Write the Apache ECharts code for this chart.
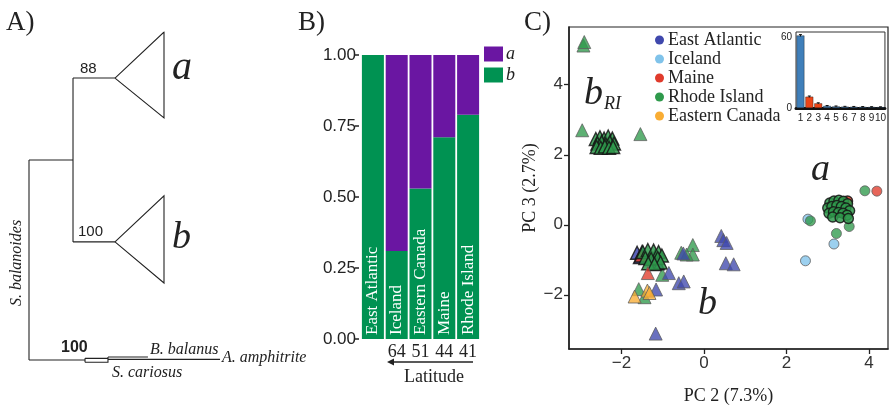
<!DOCTYPE html>
<html>
<head>
<meta charset="utf-8">
<script src="https://cdn.jsdelivr.net/npm/echarts@6/dist/echarts.min.js"></script>
<style>
  html, body { margin: 0; padding: 0; background: #fff; }
  #chart { width: 889px; height: 410px; }
</style>
</head>
<body>
<div id="chart"></div>
<script>
// A) collapsed tree, x = branch length units, y = tip order units
const treeSegments = [
  [[0, 3.89], [0, 9.97]],
  [[0, 3.89], [0.326, 3.89]],
  [[0.326, 1.4], [0.326, 6.38]],
  [[0.326, 1.4], [0.637, 1.4]],
  [[0.326, 6.38], [0.637, 6.38]],
  [[0.637, 1.4], [1, 0], [1, 2.61], [0.637, 1.4]],
  [[0.637, 6.38], [1, 4.98], [1, 7.63], [0.637, 6.38]],
  [[0, 9.97], [0.415, 9.97]],
  [[0.415, 9.92], [0.415, 10.04]],
  [[0.415, 10.04], [0.585, 10.04], [0.585, 9.88]],
  [[0.415, 9.92], [0.585, 9.92]],
  [[0.585, 9.88], [0.881, 9.88]],
  [[0.585, 9.95], [1.415, 9.95]]
];

// B) cluster share per region
const regions = ["East Atlantic", "Iceland", "Eastern Canada", "Maine", "Rhode Island"];
const latitudes = ["", "64", "51", "44", "41"];
const shareB = [1.0, 0.31, 0.53, 0.71, 0.79];
const shareA = [0, 0.69, 0.47, 0.29, 0.21];

// C) PCA, PC2 vs PC3
const pcTicks = [-2, 0, 2, 4];
const rhodeIslandB = [
  [-2.92, 5.12], [-2.9, 5.22], [-2.95, 2.7], [-1.54, 2.59],
  [-1.01, -1.43], [-1.58, -1.84], [-1.44, -2.07],
  [-0.55, -0.8], [-0.27, -0.58], [-0.27, -0.85], [-0.42, -0.85]
];
const rhodeIslandBRI = [
  [-2.62, 2.45], [-2.52, 2.5], [-2.42, 2.46], [-2.32, 2.52], [-2.22, 2.46],
  [-2.58, 2.32], [-2.48, 2.36], [-2.38, 2.3], [-2.28, 2.36], [-2.18, 2.32],
  [-2.6, 2.22], [-2.5, 2.2], [-2.4, 2.24], [-2.3, 2.2], [-2.2, 2.22]
];
const rhodeIslandBCore = [
  [-1.48, -0.78], [-1.36, -0.72], [-1.22, -0.74], [-1.1, -0.78], [-1.02, -0.88],
  [-1.42, -0.95], [-1.28, -0.98], [-1.12, -0.95], [-1.35, -1.1], [-1.05, -1.08], [-1.2, -1.12]
];
const eastAtlanticBCore = [[-1.62, -0.8], [-1.55, -0.92], [-1.5, -0.78], [-1.18, -0.9], [-1.12, -1.1]];
const eastAtlanticB = [
  [-0.85, -1.38], [-0.61, -1.67], [-0.49, -1.62], [-1.16, -1.85], [-1.17, -3.11],
  [0.42, -0.32], [0.47, -0.44], [0.55, -0.52], [0.53, -1.1], [0.72, -1.13], [-0.5, -0.82]
];
const maineBCore = [[-1.52, -0.88]];
const maineB = [[-1.36, -1.38]];
const canadaB = [[-1.68, -2.05], [-1.37, -1.88], [-1.32, -1.95]];
const icelandA = [[2.46, -1.03], [2.52, 0.16], [3.15, -0.55]];
const rhodeIslandA = [[2.58, 0.11], [3.21, -0.25], [3.52, -0.05], [3.9, 0.97]];
const maineACore = [[3.48, 0.68]];
const rhodeIslandACore = [
  [3.05, 0.62], [3.15, 0.68], [3.27, 0.7], [3.38, 0.67], [3.48, 0.6],
  [3.0, 0.48], [3.1, 0.52], [3.22, 0.55], [3.33, 0.52], [3.44, 0.48], [3.53, 0.4],
  [3.03, 0.33], [3.14, 0.37], [3.26, 0.35], [3.37, 0.33], [3.47, 0.27],
  [3.12, 0.22], [3.3, 0.2], [3.5, 0.18]
];
const maineA = [[4.19, 0.96]];

// inset: variance explained per PC
const pcNumbers = ["1", "2", "3", "4", "5", "6", "7", "8", "9", "10"];
const pcVariance = [61, 9.5, 3.9, 1.7, 1.3, 1.1, 1.0, 0.9, 0.8, 0.7];
const pcVarianceErr = [0.8, 0.6, 0.5, 0.4, 0.4, 0.3, 0.3, 0.3, 0.3, 0.3];
const pcVarianceTicks = [0, 60];

const serif = '"Liberation Serif", "DejaVu Serif", serif';
const sans = '"Liberation Sans", Arial, sans-serif';
const ink = "#222";
const colors = {
  "East Atlantic": "#3f48ad",
  Iceland: "#80c3ea",
  Maine: "#e03b2c",
  "Rhode Island": "#2f9a4c",
  "Eastern Canada": "#f9ad34",
};
const minus = (v) => String(v).replace("-", "\u2212");

function scatter(name, data, symbol, size, dense) {
  return {
    name,
    type: "scatter",
    xAxisIndex: 2,
    yAxisIndex: 2,
    symbol,
    symbolSize: size,
    data,
    itemStyle: dense
      ? { color: colors[name], opacity: 0.85, borderColor: "#151515", borderWidth: 1.4 }
      : { color: colors[name], opacity: 0.78, borderColor: "#5e5e5e", borderWidth: 1 },
  };
}

function text(x, y, str, font, align) {
  return { type: "text", x, y, style: { text: str, font, fill: ink, textAlign: align || "left", textVerticalAlign: "middle" } };
}

const chart = echarts.init(document.getElementById("chart"));

const balanoides = text(17, 263, "S. balanoides", `italic 16px ${serif}`, "center");
balanoides.rotation = Math.PI / 2;

chart.setOption({
  animation: false,
  grid: [
    { left: 29, top: 32, width: 270, height: 345.45, containLabel: false },
    { left: 361, top: 55, width: 119, height: 284, containLabel: false },
    { left: 569, top: 27, right: 1, bottom: 58, show: true, borderColor: ink, borderWidth: 1.2, containLabel: false },
    { left: 796, top: 32, width: 90, height: 76, show: true, borderColor: "#333", borderWidth: 1, backgroundColor: "#fff", containLabel: false, z: 5 },
  ],
  xAxis: [
    { gridIndex: 0, type: "value", min: 0, max: 2, show: false },
    {
      gridIndex: 1,
      type: "category",
      data: regions,
      axisLine: { show: false },
      axisTick: { show: false },
      axisLabel: { formatter: (v, i) => latitudes[i], color: ink, fontFamily: serif, fontSize: 18, margin: 4 },
    },
    {
      gridIndex: 2,
      type: "value",
      min: -3.27,
      max: 4.46,
      splitLine: { show: false },
      axisLine: { onZero: false, lineStyle: { color: ink, width: 1.6 } },
      axisTick: { customValues: pcTicks, length: 5, lineStyle: { color: ink, width: 1.3 } },
      axisLabel: { customValues: pcTicks, formatter: minus, color: "#333", fontFamily: sans, fontSize: 17, margin: 6 },
      name: "PC 2 (7.3%)",
      nameLocation: "middle",
      nameGap: 38,
      nameTextStyle: { fontFamily: serif, fontSize: 18, color: ink },
    },
    {
      gridIndex: 3,
      type: "category",
      data: pcNumbers,
      z: 6,
      axisLine: { lineStyle: { color: "#111", width: 3 } },
      axisTick: { show: false },
      axisLabel: { interval: 0, color: ink, fontFamily: sans, fontSize: 10, margin: 5 },
    },
  ],
  yAxis: [
    { gridIndex: 0, type: "value", min: 0, max: 10.5, inverse: true, show: false },
    {
      gridIndex: 1,
      type: "value",
      min: 0,
      max: 1,
      interval: 0.25,
      offset: 2,
      splitLine: { show: false },
      axisLine: { show: false },
      axisTick: { show: true, length: 4, lineStyle: { color: ink, width: 1.5 } },
      axisLabel: { formatter: (v) => v.toFixed(2), color: ink, fontFamily: sans, fontSize: 17, margin: 3 },
    },
    {
      gridIndex: 2,
      type: "value",
      min: -3.55,
      max: 5.65,
      splitLine: { show: false },
      axisLine: { onZero: false, lineStyle: { color: ink, width: 1.6 } },
      axisTick: { customValues: pcTicks, length: 5, lineStyle: { color: ink, width: 1.3 } },
      axisLabel: { customValues: pcTicks, formatter: minus, color: "#333", fontFamily: sans, fontSize: 17, margin: 6 },
      name: "PC 3 (2.7%)",
      nameLocation: "middle",
      nameGap: 15,
      nameTextStyle: { fontFamily: serif, fontSize: 18, color: ink },
    },
    {
      gridIndex: 3,
      type: "value",
      min: 0,
      max: 64,
      splitLine: { show: false },
      axisLine: { show: false },
      axisTick: { show: false },
      axisLabel: { customValues: pcVarianceTicks, color: ink, fontFamily: sans, fontSize: 10, margin: 4 },
    },
  ],
  legend: [
    {
      left: 484,
      top: 45,
      orient: "vertical",
      icon: "rect",
      itemWidth: 19,
      itemHeight: 15,
      itemGap: 3,
      padding: 0,
      data: ["a", "b"],
      textStyle: { fontFamily: serif, fontStyle: "italic", fontSize: 18, color: ink, padding: [0, 0, 0, -2] },
    },
    {
      left: 655,
      top: 31,
      orient: "vertical",
      icon: "circle",
      itemWidth: 9,
      itemHeight: 9,
      itemGap: 1,
      padding: 0,
      data: ["East Atlantic", "Iceland", "Maine", "Rhode Island", "Eastern Canada"],
      itemStyle: { opacity: 1, borderWidth: 0 },
      textStyle: { fontFamily: serif, fontSize: 18, color: ink, lineHeight: 17, padding: [0, 0, 0, -1] },
    },
  ],
  graphic: [
    text(6, 23, "A)", `27px ${serif}`),
    text(298, 23, "B)", `27px ${serif}`),
    text(524, 23, "C)", `27px ${serif}`),
    text(80, 69, "88", `15px ${sans}`),
    text(78, 232, "100", `15px ${sans}`),
    text(172, 68, "a", `italic 40px ${serif}`),
    text(172, 238, "b", `italic 38px ${serif}`),
    balanoides,
    text(61, 348, "100", `bold 16px ${sans}`),
    text(150, 350, "B. balanus", `italic 16px ${serif}`),
    text(222, 358, "A. amphitrite", `italic 16px ${serif}`),
    text(112, 373, "S. cariosus", `italic 16px ${serif}`),
    { type: "line", shape: { x1: 473, y1: 362, x2: 392, y2: 362 }, style: { stroke: ink, lineWidth: 1.3 } },
    { type: "polygon", shape: { points: [[387, 362], [394, 358.5], [394, 365.5]] }, style: { fill: ink } },
    text(434, 377, "Latitude", `18px ${serif}`, "center"),
    text(584, 94, "b", `italic 38px ${serif}`),
    text(604, 104, "RI", `italic 18px ${serif}`),
    text(811, 170, "a", `italic 38px ${serif}`),
    text(698, 304, "b", `italic 38px ${serif}`),
  ],
  series: [
    {
      type: "lines",
      coordinateSystem: "cartesian2d",
      xAxisIndex: 0,
      yAxisIndex: 0,
      polyline: true,
      silent: true,
      lineStyle: { color: ink, width: 1.1, opacity: 1 },
      data: treeSegments.map((coords) => ({ coords })),
    },
    {
      name: "b",
      type: "bar",
      stack: "share",
      xAxisIndex: 1,
      yAxisIndex: 1,
      barWidth: 22,
      data: shareB,
      itemStyle: { color: "#009252" },
      label: {
        show: true,
        position: "insideBottom",
        rotate: 90,
        align: "left",
        verticalAlign: "middle",
        distance: 4,
        formatter: (p) => regions[p.dataIndex],
        color: "#fff",
        fontFamily: serif,
        fontSize: 17,
      },
    },
    {
      name: "a",
      type: "bar",
      stack: "share",
      xAxisIndex: 1,
      yAxisIndex: 1,
      barWidth: 22,
      data: shareA,
      itemStyle: { color: "#6a16a2" },
    },
    scatter("Rhode Island", rhodeIslandB, "triangle", 13),
    scatter("Rhode Island", rhodeIslandBRI, "triangle", 13, true),
    scatter("East Atlantic", eastAtlanticBCore, "triangle", 13, true),
    scatter("Maine", maineBCore, "triangle", 13, true),
    scatter("Rhode Island", rhodeIslandBCore, "triangle", 13, true),
    scatter("East Atlantic", eastAtlanticB, "triangle", 13),
    scatter("Maine", maineB, "triangle", 13),
    scatter("Eastern Canada", canadaB, "triangle", 13),
    scatter("Iceland", icelandA, "circle", 10),
    scatter("Rhode Island", rhodeIslandA, "circle", 10),
    scatter("Maine", maineACore, "circle", 10, true),
    scatter("Rhode Island", rhodeIslandACore, "circle", 10, true),
    scatter("Maine", maineA, "circle", 10),
    {
      type: "bar",
      xAxisIndex: 3,
      yAxisIndex: 3,
      barWidth: "88%",
      z: 6,
      data: pcVariance.map((v, i) => ({
        value: v,
        itemStyle: { color: i === 1 || i === 2 ? "#ec4518" : "#3f7fba" },
      })),
      itemStyle: { borderColor: "#1a1a1a", borderWidth: 0.4 },
    },
    {
      type: "custom",
      xAxisIndex: 3,
      yAxisIndex: 3,
      z: 7,
      encode: { x: 0, y: 1 },
      data: pcVariance.map((v, i) => [i, v, pcVarianceErr[i]]),
      renderItem(params, api) {
        const hi = api.coord([api.value(0), api.value(1) + api.value(2)]);
        const lo = api.coord([api.value(0), api.value(1) - api.value(2)]);
        const s = { stroke: "#111", lineWidth: 1 };
        return {
          type: "group",
          children: [
            { type: "line", shape: { x1: hi[0], y1: hi[1], x2: lo[0], y2: lo[1] }, style: s },
            { type: "line", shape: { x1: hi[0] - 1.5, y1: hi[1], x2: hi[0] + 1.5, y2: hi[1] }, style: s },
          ],
        };
      },
    },
  ],
});
</script>
</body>
</html>
